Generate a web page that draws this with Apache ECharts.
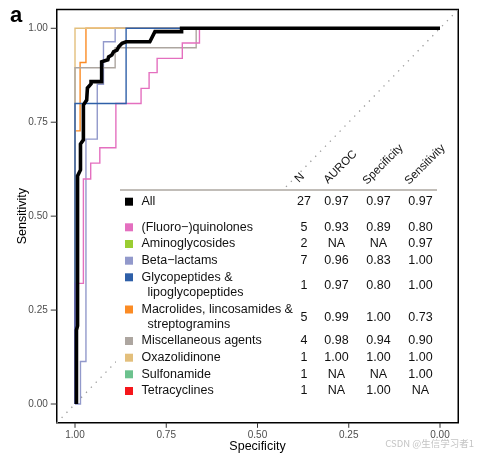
<!DOCTYPE html>
<html><head><meta charset="utf-8">
<script src="https://cdn.jsdelivr.net/npm/echarts@6/dist/echarts.min.js"></script>
<style>html,body{margin:0;padding:0;background:#fff}#c{width:477px;height:456px}</style>
</head><body><div id="c"></div>
<script>
// ---------- data ----------
const xTicks = [0, 0.25, 0.5, 0.75, 1];
const yTicks = [0, 0.25, 0.5, 0.75, 1];
const diagSpec = [1.05, -0.05];
const diagSens = [-0.05, 1.05];

const allSpec = [0.996, 0.996, 0.993, 0.993, 0.985, 0.985, 0.977, 0.977, 0.968, 0.966, 0.956, 0.956, 0.927, 0.927, 0.910, 0.908, 0.899, 0.894, 0.885, 0.880, 0.871, 0.860, 0.795, 0.781, 0.708, 0.708, 0];
const allSens = [0, 0.197, 0.208, 0.607, 0.623, 0.692, 0.703, 0.796, 0.809, 0.841, 0.852, 0.858, 0.858, 0.911, 0.916, 0.924, 0.929, 0.938, 0.942, 0.951, 0.960, 0.964, 0.964, 0.991, 0.991, 1, 1];

const fqSpec = [1, 1, 0.977, 0.977, 0.957, 0.957, 0.932, 0.932, 0.888, 0.888, 0.819, 0.819, 0.797, 0.797, 0.775, 0.775, 0.706, 0.706, 0.659, 0.659, 0];
const fqSens = [0, 0.321, 0.321, 0.599, 0.599, 0.641, 0.641, 0.682, 0.682, 0.800, 0.800, 0.840, 0.840, 0.882, 0.882, 0.920, 0.920, 0.961, 0.961, 1, 1];

const blSpec = [1, 0.985, 0.985, 0.970, 0.970, 0.939, 0.939, 0.922, 0.922, 0.890, 0.890, 0];
const blSens = [0, 0, 0.113, 0.113, 0.705, 0.705, 0.851, 0.851, 0.964, 0.964, 1, 1];

const gpSpec = [1, 1, 0.860, 0.860, 0];
const gpSens = [0, 0.800, 0.800, 1, 1];

const mlSpec = [1, 1, 0.986, 0.986, 0.970, 0.970, 0];
const mlSens = [0, 0.727, 0.727, 0.909, 0.909, 1, 1];

const miscSpec = [1, 1, 0.890, 0.890, 0.668, 0.668, 0];
const miscSens = [0, 0.895, 0.895, 0.948, 0.948, 1, 1];

const oxSpec = [1, 1, 0];
const oxSens = [0, 1, 1];

const classNames = [['All'], ['(Fluoro\u2212)quinolones'], ['Aminoglycosides'], ['Beta\u2212lactams'],
  ['Glycopeptides &', 'lipoglycopeptides'], ['Macrolides, lincosamides &', 'streptogramins'],
  ['Miscellaneous agents'], ['Oxazolidinone'], ['Sulfonamide'], ['Tetracyclines']];
const nValues = ['27', '5', '2', '7', '1', '5', '4', '1', '1', '1'];
const aurocValues = ['0.97', '0.93', 'NA', '0.96', '0.97', '0.99', '0.98', '1.00', 'NA', 'NA'];
const specValues = ['0.97', '0.89', 'NA', '0.83', '0.80', '1.00', '0.94', '1.00', 'NA', '1.00'];
const sensValues = ['0.97', '0.80', '0.97', '1.00', '1.00', '0.73', '0.90', '1.00', '1.00', 'NA'];
const headerLabels = ['N', 'AUROC', 'Specificity', 'Sensitivity'];

// ---------- style / layout ----------
const FONT = '"Liberation Sans", Arial, Helvetica, sans-serif';
const classColors = ['#000000', '#E46FBF', '#9ACD32', '#9299CB', '#2E5FA8', '#FB8B24', '#ADA6A0', '#E3BF7C', '#6CC28E', '#F5161B'];
const rowY = [201.7, 227.3, 244, 260.7, 277.3, 309.5, 341, 357.7, 374.3, 391];
const colX = [304, 336.5, 378.5, 420.5];
const headerAnchor = [[301, 185], [330, 186], [369, 187], [411, 187]];
const X_EDGE = -0.05, Y_EDGE = -0.05, X_LEFT = 1.05;

function zip(a, b) { return a.map((v, i) => [v, b[i]]); }
function curve(name, sx, sy, color, w, z) {
  return { name, type: 'line', data: zip(sx, sy), symbol: 'none', z: z,
    lineStyle: { color, width: w, join: 'miter' }, silent: true, animation: false };
}

const series = [
  { type: 'line', data: zip(diagSpec, diagSens), symbol: 'none', z: 1, silent: true,
    lineStyle: { color: '#9a9a9a', width: 1.3, type: [1.3, 5.7] } },
  curve('Macrolides', mlSpec, mlSens, classColors[5], 1.4, 2),
  curve('Beta-lactams', blSpec, blSens, classColors[3], 1.4, 2),
  curve('Oxazolidinone', oxSpec, oxSens, classColors[7], 1.4, 2),
  curve('Misc', miscSpec, miscSens, classColors[6], 1.4, 2),
  curve('FQ', fqSpec, fqSens, classColors[1], 1.4, 2),
  curve('Glyco', gpSpec, gpSens, classColors[4], 1.4, 2),
  curve('All', allSpec, allSens, '#000', 3.6, 3),
  // tick marks on x axis, positioned through the axis scale
  { type: 'custom', silent: true, clip: false, z: 5, data: xTicks.map(v => [v, Y_EDGE]),
    renderItem: (params, api) => {
      const p = api.coord([api.value(0), api.value(1)]);
      return { type: 'line', shape: { x1: p[0], y1: p[1], x2: p[0], y2: p[1] + 5 }, style: { stroke: '#333', lineWidth: 1 } };
    } },
  // tick marks on y axis
  { type: 'custom', silent: true, clip: false, z: 5, data: yTicks.map(v => [X_LEFT, v]),
    renderItem: (params, api) => {
      const p = api.coord([api.value(0), api.value(1)]);
      return { type: 'line', shape: { x1: p[0], y1: p[1], x2: p[0] - 6, y2: p[1] }, style: { stroke: '#333', lineWidth: 1 } };
    } }
];

const graphics = [];
graphics.push({ type: 'text', left: 10, top: 5, z: 20,
  style: { text: 'a', font: 'bold 22px ' + FONT, fill: '#000' } });
graphics.push({ type: 'rect', shape: { x: 116, y: 189, width: 324, height: 226 }, z: 10,
  style: { fill: '#fff' }, silent: true });
graphics.push({ type: 'line', shape: { x1: 120, y1: 190, x2: 437, y2: 190 }, z: 11,
  style: { stroke: '#aca7a1', lineWidth: 1.5 } });
headerLabels.forEach((h, i) => {
  graphics.push({ type: 'text', x: headerAnchor[i][0], y: headerAnchor[i][1], rotation: Math.PI / 4, z: 12,
    style: { text: h, font: '11.5px ' + FONT, fill: '#111', align: 'left', verticalAlign: 'bottom' } });
});
classNames.forEach((lines, i) => {
  const y0 = rowY[i];
  graphics.push({ type: 'rect', shape: { x: 125, y: y0 - 4, width: 8, height: 8 }, z: 12,
    style: { fill: classColors[i] } });
  lines.forEach((t, j) => {
    graphics.push({ type: 'text', x: 141.5 + (j > 0 ? 6 : 0), y: y0 + j * 15, z: 12,
      style: { text: t, font: '12.5px ' + FONT, fill: '#111', align: 'left', verticalAlign: 'middle' } });
  });
  const yNum = y0 + (lines.length - 1) * 7.5 + (lines.length > 1 ? 1 : 0);
  [nValues[i], aurocValues[i], specValues[i], sensValues[i]].forEach((v, k) => {
    graphics.push({ type: 'text', x: colX[k], y: yNum, z: 12,
      style: { text: v, font: '12.5px ' + FONT, fill: '#111', align: 'center', verticalAlign: 'middle' } });
  });
});
graphics.push({ type: 'text', x: 474, y: 443, z: 20,
  style: { text: 'CSDN @生信学习者1', font: '9.5px "Noto Sans CJK SC", ' + FONT, fill: '#c4c4c4', align: 'right', verticalAlign: 'middle' } });

const chart = echarts.init(document.getElementById('c'), null, { renderer: 'canvas' });
chart.setOption({
  animation: false,
  backgroundColor: '#fff',
  grid: { left: 56.75, right: 18.75, top: 9.5, bottom: 33.2, show: true, borderColor: '#000', borderWidth: 1.5,
    backgroundColor: 'transparent', containLabel: false, outerBoundsMode: 'none' },
  xAxis: {
    type: 'value', inverse: true, min: X_EDGE, max: X_LEFT,
    name: 'Specificity', nameLocation: 'middle', nameGap: 17, nameMoveOverlap: false,
    nameTextStyle: { fontFamily: FONT, fontSize: 12.5, color: '#000' },
    axisLine: { show: false },
    axisTick: { show: false },
    axisLabel: { customValues: xTicks, margin: 7, fontFamily: FONT, fontSize: 10, color: '#4d4d4d', formatter: v => v.toFixed(2) },
    splitLine: { show: false }
  },
  yAxis: {
    type: 'value', min: Y_EDGE, max: 1.05,
    name: 'Sensitivity', nameLocation: 'middle', nameGap: 28, nameMoveOverlap: false,
    nameTextStyle: { fontFamily: FONT, fontSize: 12.5, color: '#000' },
    axisLine: { show: false },
    axisTick: { show: false },
    axisLabel: { customValues: yTicks, margin: 9, fontFamily: FONT, fontSize: 10, color: '#4d4d4d', formatter: v => v.toFixed(2) },
    splitLine: { show: false }
  },
  series: series,
  graphic: { elements: graphics }
});
</script>
</body></html>
